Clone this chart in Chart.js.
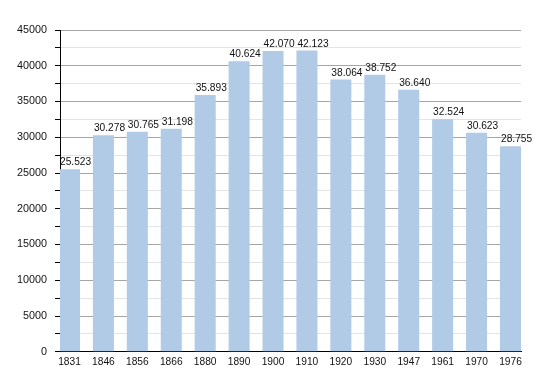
<!DOCTYPE html>
<html>
<head>
<meta charset="utf-8">
<script src="https://cdn.jsdelivr.net/npm/chart.js@4/dist/chart.umd.min.js"></script>
<style>
html,body{margin:0;padding:0;background:#fff;}
#wrap{width:550px;height:380px;position:relative;}
</style>
</head>
<body>
<div id="wrap"><canvas id="c" width="550" height="380"></canvas></div>
<script>
const years = ['1831','1846','1856','1866','1880','1890','1900','1910','1920','1930','1947','1961','1970','1976'];
const population = [25523, 30278, 30765, 31198, 35893, 40624, 42070, 42123, 38064, 38752, 36640, 32524, 30623, 28755];
const valueLabels = ['25.523','30.278','30.765','31.198','35.893','40.624','42.070','42.123','38.064','38.752','36.640','32.524','30.623','28.755'];

const FONT = '"Liberation Sans", Arial, Helvetica, sans-serif';

const valueLabelPlugin = {
  id: 'valueLabels',
  afterDatasetsDraw(chart) {
    const ctx = chart.ctx;
    const meta = chart.getDatasetMeta(0);
    ctx.save();
    ctx.font = '10.2px ' + FONT;
    ctx.fillStyle = '#111';
    ctx.textAlign = 'left';
    ctx.textBaseline = 'alphabetic';
    meta.data.forEach((bar, i) => {
      const p = bar.getProps(['x', 'y', 'width'], true);
      ctx.fillText(valueLabels[i], p.x - p.width / 2 + 1, p.y - 4);
    });
    ctx.restore();
  }
};

new Chart(document.getElementById('c'), {
  type: 'bar',
  data: {
    datasets: [{
      data: population.map((v, i) => ({x: i, y: v})),
      backgroundColor: '#b1cbe6',
      borderWidth: 0,
      categoryPercentage: 1,
      barPercentage: 0.62
    }]
  },
  options: {
    responsive: false,
    animation: false,
    events: [],
    layout: {padding: {left: 0, right: 29, top: 30, bottom: 8}},
    plugins: {legend: {display: false}, tooltip: {enabled: false}},
    scales: {
      x: {
        type: 'linear',
        offset: false,
        min: -0.28,
        max: 13.31,
        afterBuildTicks(scale) { scale.ticks = years.map((_, i) => ({value: i})); },
        grid: {display: true, offset: false, drawOnChartArea: false, drawTicks: false},
        border: {display: true, color: '#000', width: 1},
        ticks: {
          autoSkip: false,
          maxRotation: 0,
          padding: 4,
          color: '#111',
          font: {family: FONT, size: 10.2},
          callback: (v) => years[v]
        }
      },
      y: {
        min: 0,
        max: 45000,
        afterFit(scale) { scale.width = 60; },
        ticks: {
          stepSize: 2500,
          padding: 8,
          color: '#111',
          font: {family: FONT, size: 10.8},
          callback: (v) => (v % 5000 === 0 ? String(v) : '')
        },
        grid: {
          color: (c) => (c.tick && c.tick.value % 5000 === 0 ? '#a6a6a6' : '#e4e4e4'),
          tickColor: '#000',
          tickLength: 5,
          lineWidth: 1
        },
        border: {display: true, color: '#000', width: 1}
      }
    }
  },
  plugins: [valueLabelPlugin]
});
</script>
</body>
</html>
